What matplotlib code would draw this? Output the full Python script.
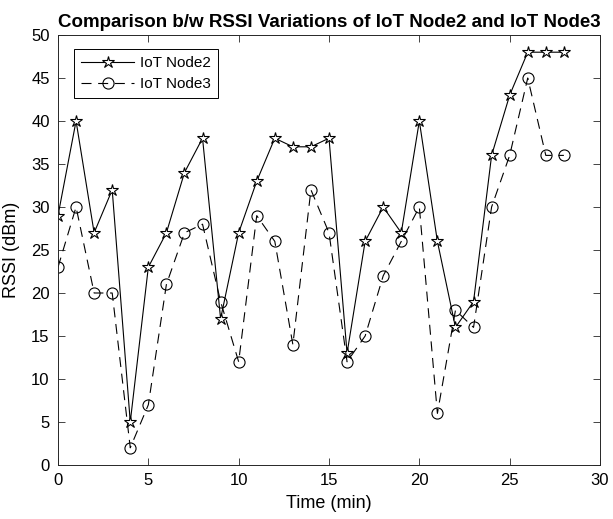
import matplotlib
matplotlib.use("Agg")
import matplotlib.pyplot as plt

plt.rcParams['font.family'] = ['Liberation Sans', 'DejaVu Sans']

time = list(range(0, 29))
node2 = [29, 40, 27, 32, 5, 23, 27, 34, 38, 17, 27, 33, 38, 37, 37, 38, 13, 26, 30, 27, 40, 26, 16, 19, 36, 43, 48, 48, 48]
node3 = [23, 30, 20, 20, 2, 7, 21, 27, 28, 19, 12, 29, 26, 14, 32, 27, 12, 15, 22, 26, 30, 6, 18, 16, 30, 36, 45, 36, 36]

fig = plt.figure(figsize=(6.13, 5.19), dpi=100)
ax = fig.add_axes([58/613, 1 - 465/519, (600-58)/613, (465-35)/519])

ax.plot(time, node2, '-', color='black', lw=0.8, marker='*', markersize=9,
        markerfacecolor='white', markeredgecolor='black', markeredgewidth=0.8, label='IoT Node2')
ax.plot(time, node3, color='black', lw=0.8, linestyle=(0, (9, 6)), marker='o', markersize=8,
        markerfacecolor='none', markeredgecolor='black', markeredgewidth=0.8, label='IoT Node3')

ax.set_xlim(0, 30)
ax.set_ylim(0, 50)
ax.set_xticks(range(0, 31, 5))
ax.set_yticks(range(0, 51, 5))
ax.tick_params(direction='in', top=True, right=True, labelsize=12, length=5, width=0.6,
               colors='#262626', pad=6)
ax.tick_params(labelcolor='black')
for s in ax.spines.values():
    s.set_linewidth(0.7)
    s.set_color('#262626')

ax.set_xlabel('Time (min)', fontsize=13, labelpad=5)
ax.set_ylabel('RSSI (dBm)', fontsize=13, labelpad=8)
ax.set_title('Comparison b/w RSSI Variations of IoT Node2 and IoT Node3', fontsize=13.5,
             fontweight='bold', pad=6)

leg = ax.legend(loc='upper left', bbox_to_anchor=(0.0295, 0.967), fontsize=11, fancybox=False,
                edgecolor='black', handlelength=3.5, handletextpad=0.4, borderaxespad=0,
                borderpad=0.45, labelspacing=0.45, framealpha=1)
leg.get_frame().set_linewidth(0.7)

fig.savefig('out.png', dpi=100)
